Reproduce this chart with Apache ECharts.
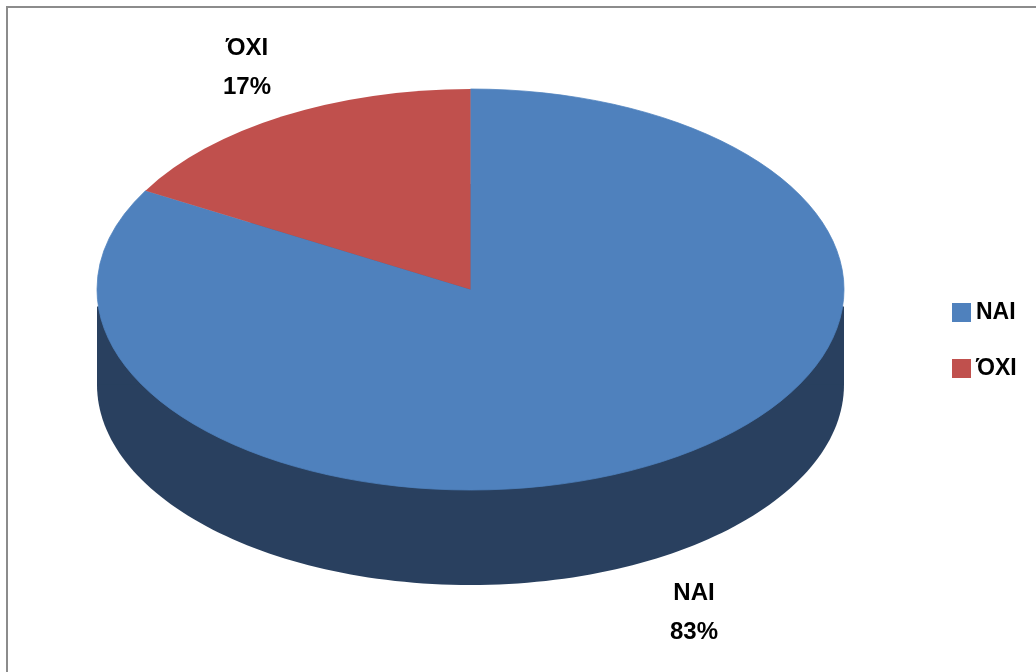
<!DOCTYPE html>
<html>
<head>
<meta charset="utf-8">
<style>html,body{margin:0;padding:0;background:#fff;overflow:hidden}#c{width:1036px;height:672px;filter:blur(0.7px)}</style>
<script src="https://cdn.jsdelivr.net/npm/echarts@6/dist/echarts.min.js"></script>
</head>
<body>
<div id="c"></div>
<script>
const categories = ['ΝΑΙ', 'ΌΧΙ'];
const values = [83.2, 16.8];
const colors = ['#4f81bd', '#c0504d'];
const sideColor = '#29405f';

const cx = 470.5, cy = 289.5, rx = 373.5, ry = 200.5, depth = 95, sideInset = 17;
const labelPos = [[694, 613], [247, 68]];
const total = values.reduce((a, b) => a + b, 0);
const fontFamily = '"Liberation Sans", Arial, sans-serif';
const font = 'bold 24px ' + fontFamily;

const chart = echarts.init(document.getElementById('c'), null, {renderer: 'canvas'});

function sliceSeries(idx) {
  return {
    name: categories[idx],
    type: 'custom',
    coordinateSystem: 'none',
    z: 2,
    itemStyle: {color: colors[idx]},
    data: [[values[idx]]],
    renderItem: function (params, api) {
      const before = values.slice(0, idx).reduce((a, b) => a + b, 0);
      const v = api.value(0);
      const start = -Math.PI / 2 + 2 * Math.PI * before / total;
      const end = start + 2 * Math.PI * v / total;
      const children = [];
      if (idx === 0) {
        children.push(
          {type: 'ellipse', shape: {cx: cx, cy: cy + depth, rx: rx, ry: ry}, style: {fill: sideColor}},
          {type: 'rect', shape: {x: cx - rx, y: cy + sideInset, width: 2 * rx, height: depth - sideInset}, style: {fill: sideColor}}
        );
      }
      children.push({
        type: 'group', x: cx, y: cy, scaleX: 1, scaleY: ry / rx,
        children: [{
          type: 'sector',
          shape: {cx: 0, cy: 0, r0: 0, r: rx, startAngle: start, endAngle: end, clockwise: true},
          style: idx === 0 ? {fill: colors[idx], stroke: colors[idx], lineWidth: 1} : {fill: colors[idx]}
        }]
      });
      return {type: 'group', children: children};
    }
  };
}

function labelSeries(idx) {
  return {
    type: 'custom',
    coordinateSystem: 'none',
    z: 5,
    silent: true,
    data: [[values[idx]]],
    renderItem: function (params, api) {
      const pct = Math.round(api.value(0) / total * 100) + '%';
      return {
        type: 'text', x: labelPos[idx][0], y: labelPos[idx][1],
        style: {text: categories[idx] + '\n' + pct, font: font, fill: '#000',
                align: 'center', verticalAlign: 'middle', lineHeight: 39}
      };
    }
  };
}

chart.setOption({
  animation: false,
  backgroundColor: '#fff',
  legend: {
    orient: 'vertical', left: 947, top: 296,
    icon: 'rect', itemWidth: 19, itemHeight: 19, itemGap: 33,
    data: categories,
    selectedMode: false,
    textStyle: {fontFamily: fontFamily, fontWeight: 'bold', fontSize: 23, color: '#000', padding: [0, 0, 0, 0]}
  },
  graphic: [{
    type: 'rect', z: 0, silent: true,
    shape: {x: 7, y: 7, width: 1100, height: 800},
    style: {fill: '#fff', stroke: '#8c8c8c', lineWidth: 2}
  }],
  series: [sliceSeries(0), sliceSeries(1), labelSeries(0), labelSeries(1)]
});
</script>
</body>
</html>
